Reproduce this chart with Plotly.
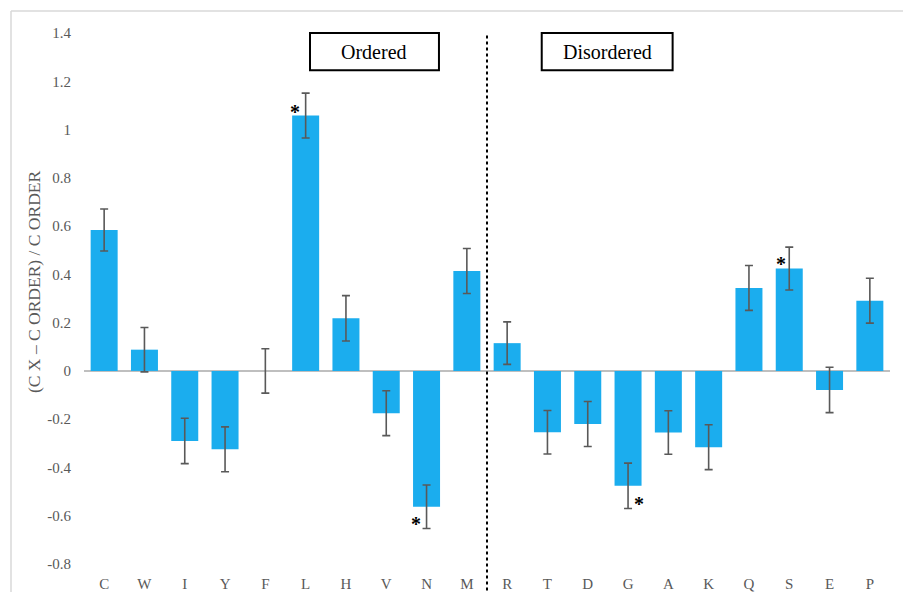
import plotly.graph_objects as go

# Amino acids, ordered-promoting first, then disorder-promoting
residues = ["C", "W", "I", "Y", "F", "L", "H", "V", "N", "M",
            "R", "T", "D", "G", "A", "K", "Q", "S", "E", "P"]
rel_change = [0.584, 0.088, -0.29, -0.325, 0.0, 1.058, 0.218, -0.175, -0.563, 0.414,
              0.115, -0.254, -0.22, -0.476, -0.255, -0.316, 0.344, 0.424, -0.079, 0.291]
err = [0.087, 0.092, 0.094, 0.093, 0.092, 0.093, 0.094, 0.093, 0.09, 0.093,
       0.088, 0.09, 0.093, 0.094, 0.09, 0.093, 0.093, 0.089, 0.094, 0.093]

# significance markers: (residue, x offset in category units, y position)
stars = [("L", -0.26, 1.09), ("N", -0.27, -0.617), ("G", 0.26, -0.534), ("S", -0.21, 0.46)]

ytick_vals = [1.4, 1.2, 1.0, 0.8, 0.6, 0.4, 0.2, 0.0, -0.2, -0.4, -0.6, -0.8]
ytick_text = ["1.4", "1.2", "1", "0.8", "0.6", "0.4", "0.2", "0", "-0.2", "-0.4", "-0.6", "-0.8"]

SERIF = "Liberation Serif"
GREY = "#595959"

fig = go.Figure(go.Bar(
    x=list(range(len(residues))),
    y=rel_change,
    marker=dict(color="#1BADEE", line=dict(width=0)),
    error_y=dict(type="data", array=err, visible=True, color=GREY, thickness=1.6, width=4),
    width=0.67,
))

fig.update_layout(
    width=903, height=592,
    margin=dict(l=84, r=13, t=33, b=28),
    paper_bgcolor="white", plot_bgcolor="white",
    showlegend=False,
    font=dict(family=SERIF, color=GREY),
)

fig.update_xaxes(
    range=[-0.5, len(residues) - 0.5],
    tickvals=list(range(len(residues))), ticktext=residues,
    tickfont=dict(family=SERIF, size=15, color=GREY),
    showgrid=False, showline=False, zeroline=False, ticks="",
    ticklabelstandoff=9, automargin=False,
)
fig.update_yaxes(
    range=[-0.8, 1.4],
    tickvals=ytick_vals, ticktext=ytick_text,
    tickfont=dict(family=SERIF, size=15, color=GREY),
    showgrid=False, showline=False, ticks="",
    zeroline=True, zerolinecolor="#BFBFBF", zerolinewidth=1.6,
    ticklabelstandoff=12, automargin=False,
)

# y-axis title
fig.add_annotation(xref="paper", yref="paper", x=-50 / 806, y=(564 - 282) / 531,
                   text="(C X – C ORDER) / C ORDER", textangle=-90, showarrow=False,
                   font=dict(family=SERIF, size=17.5, color=GREY),
                   xanchor="center", yanchor="middle")

# dotted separator between the two groups
fig.add_shape(type="line", xref="x", yref="paper", x0=9.5, x1=9.5, y0=-0.05, y1=1.0,
              line=dict(color="black", width=2, dash="dot"))

# group label boxes
for label, x0, x1 in [("Ordered", 0.2804, 0.4404), ("Disordered", 0.5679, 0.7303)]:
    fig.add_shape(type="rect", xref="paper", yref="paper", x0=x0, x1=x1, y0=0.930, y1=1.0,
                  line=dict(color="black", width=2), fillcolor="white")
    fig.add_annotation(xref="paper", yref="paper", x=(x0 + x1) / 2, y=0.965, text=label,
                       showarrow=False, font=dict(family=SERIF, size=20, color="black"),
                       xanchor="center", yanchor="middle")

# significance asterisks
for res, dx, yy in stars:
    fig.add_annotation(x=residues.index(res) + dx, y=yy, text="<b>*</b>", showarrow=False,
                       font=dict(family=SERIF, size=20, color="black"),
                       xanchor="center", yanchor="middle", yshift=-4)

# outer frame lines (top and left)
fig.add_shape(type="line", xref="paper", yref="paper", x0=-73 / 806, x1=1.02, y0=1 + 22 / 531, y1=1 + 22 / 531,
              line=dict(color="#D9D9D9", width=1.5))
fig.add_shape(type="line", xref="paper", yref="paper", x0=-73 / 806, x1=-73 / 806, y0=-0.06, y1=1 + 22 / 531,
              line=dict(color="#D9D9D9", width=1.5))

fig.write_html("out.html")
